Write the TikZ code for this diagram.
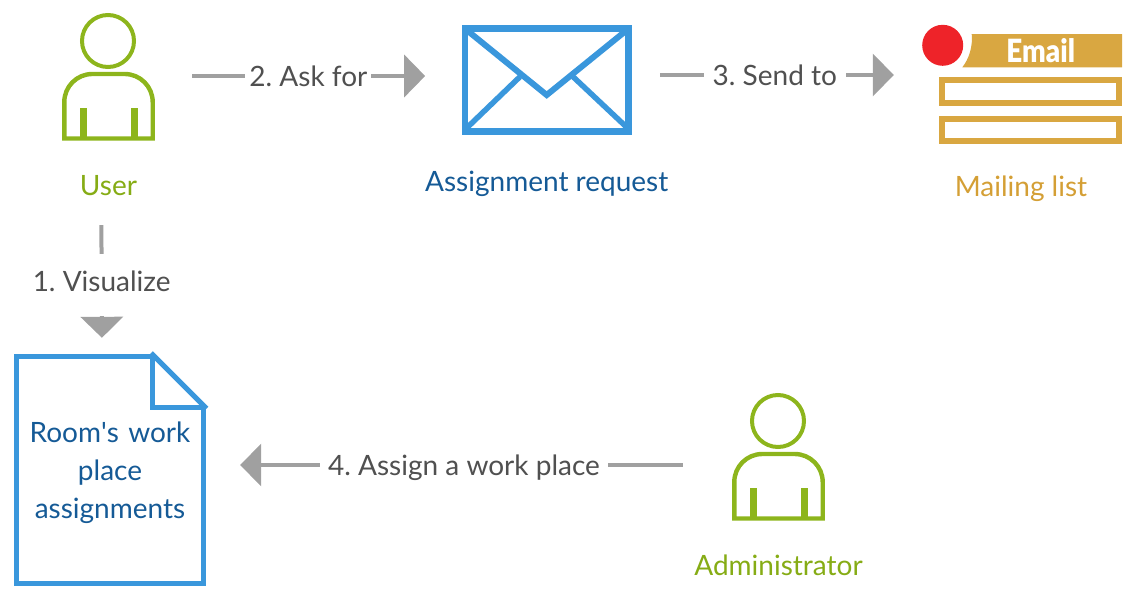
\documentclass[tikz,border=0pt]{standalone}
\usepackage{fontspec}
\setmainfont{Lato}
\newfontfamily\straightfont{Lato}
\newfontfamily\emailfont{Lato Black}
\usetikzlibrary{positioning,arrows.meta}

\definecolor{usergreen}{HTML}{8DB51C}
\definecolor{captiongreen}{HTML}{86AC15}
\definecolor{iconblue}{HTML}{3A97DC}
\definecolor{captionblue}{HTML}{155A96}
\definecolor{mailgold}{HTML}{D9A741}
\definecolor{captiongold}{HTML}{D49F35}
\definecolor{arrowgray}{HTML}{A0A0A0}
\definecolor{labelgray}{HTML}{505050}
\definecolor{dotred}{HTML}{EE2329}

\frenchspacing
\begin{document}
\begin{tikzpicture}[
    x=1pt, y=-1pt,
    font=\fontsize{28}{38}\selectfont,
    iconbox/.style={inner sep=0pt, minimum width=#1, minimum height=125pt},
    caption/.style={inner sep=0pt, text height=20pt, text depth=6pt},
    arrow/.style={draw=arrowgray, line width=4pt, -{Triangle[length=21pt,width=42pt]}},
    flowlabel/.style={fill=white, text=labelgray, inner xsep=4pt, inner ysep=2pt},
    envelopeline/.style={draw=iconblue, line width=5.5pt},
    maprow/.style={draw=mailgold, line width=5.6pt},
    sheetline/.style={draw=iconblue, line width=5pt},
    persona/.pic={
        \draw[usergreen, line width=4pt] (-0.5,-35) circle (26);
        \draw[usergreen, line width=4.4pt] (-44.2,62.5) [rounded corners=28pt] -- (-44.2,-2) -- (44.2,-2) [sharp corners] -- (44.2,62.5) -- cycle;
        \draw[usergreen, line width=7pt] (-25.5,32) -- (-25.5,62);
        \draw[usergreen, line width=7pt] (26,32) -- (26,62);
    }
]
\useasboundingbox (0,0) rectangle (1136,603);

% Icons
\node[iconbox=93pt] (user) at (108.5,76) {};
\pic at (user.center) {persona};

\node[draw=iconblue, line width=6.7pt, minimum width=163.5pt, minimum height=103pt] (request) at (546.75,80) {};
\draw[draw=iconblue, line width=6pt, line join=miter] (466,29.5) -- (546.7,95) -- (627.5,29.5);
\draw[envelopeline] (466.7,128) -- (520,76.7);
\draw[envelopeline] (573,76.7) -- (627.5,128);

\node[iconbox=202pt] (mail) at (1021,75) {};
\fill[mailgold] (971.7,34) -- (1122,34) -- (1122,67.3) -- (962.3,67.3) .. controls (969,59) and (973,46) .. (971.7,34);
\fill[dotred] (942.7,45.3) circle (20.5);
\node[text=white, font=\fontsize{32}{32}\emailfont] (emailtag) at (1040.7,50.7) {\scalebox{0.87}[1]{Email}};
\draw[maprow] (942,80.2) rectangle (1119,102.8);
\draw[maprow] (942,119) rectangle (1119,141.2);

\node[text=captionblue, text width=180pt, align=center, inner sep=0pt, minimum width=190pt, minimum height=232pt, yshift=-3pt] (room) at (110,470) {Room{\straightfont\char39}s work\\place\\assignments};
\draw[sheetline] (152.5,356.5) -- (16.5,356.5) -- (16.5,583.7) -- (203.7,583.7) -- (203.7,407);
\draw[sheetline] (151,353) -- (206.5,408.5);
\draw[sheetline] (152.5,354.5) -- (152.5,407.5) -- (206,407.5);

\node[iconbox=93pt] (admin) at (778.5,456) {};
\pic at (admin.center) {persona};

% Captions
\node[caption, text=captiongreen, below=37pt of user] (userlabel) {User};
\node[caption, text=captionblue, below=36pt of request] (requestlabel) {Assignment request};
\node[caption, text=captiongold, below=39pt of mail] (maillabel) {Mailing list};
\node[caption, text=captiongreen, below=37pt of admin] (adminlabel) {Administrator};

% Arrows
\draw[arrow, shorten <=86.5pt, shorten >=19pt] ([xshift=-7.5pt]user.south) -- node[flowlabel, pos=.672, text height=37pt, text depth=25pt, inner ysep=0pt] (visualize) {1. Visualize} ([xshift=-8pt]room.north);
\draw[arrow, shorten <=37pt, shorten >=36.5pt] (user.east) -- node[flowlabel] (askfor) {2. Ask for} (request.west |- user.east);
\draw[arrow, shorten <=28pt, shorten >=26pt] (request.east |- mail.west) -- node[flowlabel, pos=.4965, inner xsep=9pt] (sendto) {3. Send to} (mail.west);
\draw[arrow, shorten <=49pt, shorten >=35pt] ([yshift=-9pt]admin.west) -- node[flowlabel, pos=.5085, yshift=-3pt, inner xsep=8pt] (assign) {4. Assign a work place} (room.east |- 0,465);

\end{tikzpicture}
\end{document}
